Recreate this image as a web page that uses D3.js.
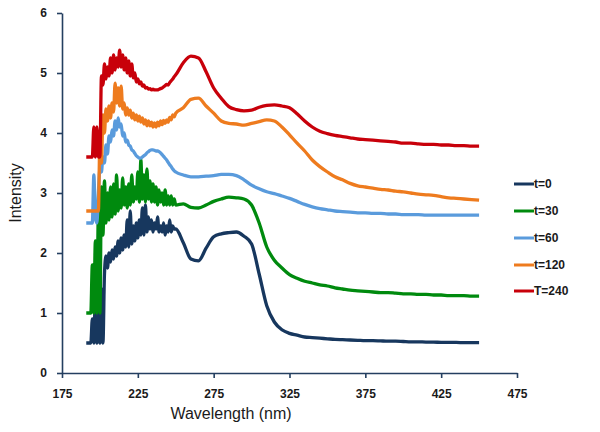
<!DOCTYPE html>
<html>
<head>
<meta charset="utf-8">
<script src="https://cdn.jsdelivr.net/npm/d3@7"></script>
<style>
  html, body { margin: 0; padding: 0; background: #fff; }
  svg { display: block; }
</style>
</head>
<body>
<svg id="chart" width="600" height="432"></svg>
<script>
const wavelength = [
  191,192,193,194,195,196,197,198,199,200,201,202,203,204,205,206,207,208,209,210,
  211,212,213,214,215,216,217,218,219,220,221,222,223,224,225,226,227,228,229,230,
  231,232,233,234,235,236,237,238,239,240,241,242,243,244,245,246,247,248,249,250,
  255,260,265,270,275,280,285,290,295,300,305,310,315,320,325,330,335,340,345,350,
  355,360,365,370,375,380,385,390,395,400,405,410,415,420,425,430,435,440,445,450
];

const t0 = [
  0.5,0.5,0.5,0.5,0.9,0.5,1.3,0.5,1.2,0.5,1.4,0.5,1.65,1.95,1.75,2.0,1.85,2.05,1.9,2.1,
  1.95,2.2,2.0,2.25,2.05,2.3,2.1,2.55,2.1,2.7,2.15,2.45,2.2,2.5,2.25,2.55,2.3,2.75,2.3,2.8,
  2.35,2.6,2.4,2.55,2.35,2.5,2.4,2.6,2.35,2.45,2.35,2.5,2.3,2.45,2.35,2.55,2.35,2.45,2.4,2.4,
  2.17,1.9,1.87,2.08,2.27,2.32,2.34,2.35,2.28,2.15,1.65,1.12,0.85,0.72,0.66,0.63,0.6,0.59,0.58,0.57,
  0.56,0.555,0.55,0.545,0.54,0.54,0.535,0.53,0.53,0.525,0.52,0.52,0.515,0.515,0.51,0.51,0.51,0.505,0.505,0.505
];

const t30 = [
  1.0,1.0,1.0,1.0,1.8,1.0,2.2,1.0,2.7,1.0,3.1,2.3,3.2,2.5,3.0,2.55,3.1,2.6,3.15,2.65,
  3.3,2.7,3.05,2.75,3.25,2.8,3.1,2.75,3.15,2.8,3.3,2.85,3.1,2.9,3.35,2.85,3.55,2.9,3.3,2.85,
  3.4,2.9,3.2,2.85,3.15,2.85,3.1,2.8,3.05,2.85,3.0,2.8,3.05,2.8,2.95,2.8,2.95,2.8,2.9,2.8,
  2.82,2.76,2.75,2.8,2.86,2.9,2.93,2.92,2.9,2.8,2.5,2.1,1.88,1.75,1.64,1.58,1.53,1.5,1.47,1.45,
  1.42,1.4,1.38,1.37,1.36,1.35,1.34,1.34,1.33,1.32,1.32,1.31,1.31,1.3,1.3,1.29,1.29,1.29,1.28,1.28
];

const t60 = [
  2.5,2.5,2.5,2.5,2.5,3.3,2.6,2.5,3.0,3.4,3.35,3.6,3.5,3.8,3.65,3.95,3.85,4.05,3.95,4.2,
  4.05,4.25,4.1,4.15,3.95,4.0,3.85,3.88,3.8,3.78,3.72,3.7,3.66,3.62,3.6,3.58,3.58,3.6,3.62,3.64,
  3.67,3.69,3.71,3.72,3.72,3.71,3.7,3.7,3.69,3.67,3.64,3.61,3.58,3.55,3.51,3.47,3.44,3.4,3.37,3.35,
  3.3,3.27,3.27,3.28,3.29,3.31,3.31,3.29,3.22,3.13,3.07,3.02,2.99,2.95,2.91,2.86,2.81,2.77,2.74,2.72,
  2.7,2.69,2.68,2.67,2.67,2.66,2.66,2.65,2.65,2.64,2.64,2.64,2.63,2.63,2.63,2.63,2.63,2.63,2.63,2.63
];

const t120 = [
  2.7,2.7,2.7,2.7,2.7,2.7,2.7,2.7,2.7,3.9,3.5,4.3,4.0,4.4,4.2,4.45,4.25,4.5,4.35,4.83,
  4.5,4.75,4.45,4.78,4.4,4.5,4.3,4.42,4.3,4.38,4.25,4.33,4.22,4.3,4.2,4.28,4.18,4.25,4.15,4.22,
  4.12,4.2,4.12,4.18,4.1,4.17,4.1,4.18,4.12,4.2,4.14,4.21,4.16,4.22,4.18,4.26,4.22,4.3,4.27,4.33,
  4.42,4.56,4.58,4.45,4.33,4.2,4.16,4.15,4.13,4.16,4.19,4.22,4.2,4.1,3.97,3.83,3.7,3.55,3.44,3.35,
  3.27,3.22,3.16,3.12,3.1,3.08,3.06,3.05,3.03,3.02,3.0,2.98,2.97,2.96,2.94,2.92,2.91,2.9,2.89,2.88
];

const t240 = [
  3.6,3.6,3.6,3.6,3.6,4.1,3.6,4.1,3.6,3.6,4.95,4.8,5.15,4.9,5.1,4.95,5.25,5.0,5.3,5.05,
  5.25,5.1,5.38,5.1,5.3,5.05,5.25,5.0,5.2,4.95,5.15,4.92,5.0,4.85,4.9,4.82,4.85,4.78,4.8,4.75,
  4.76,4.73,4.74,4.72,4.73,4.72,4.72,4.72,4.73,4.74,4.75,4.77,4.79,4.81,4.8,4.84,4.87,4.9,4.94,4.97,
  5.17,5.28,5.25,5.02,4.75,4.58,4.44,4.39,4.37,4.38,4.43,4.46,4.47,4.45,4.42,4.32,4.2,4.1,4.03,3.99,
  3.96,3.94,3.92,3.9,3.89,3.88,3.87,3.86,3.85,3.83,3.83,3.82,3.81,3.81,3.8,3.8,3.79,3.79,3.78,3.78
];

const seriesNames = ["t=0", "t=30", "t=60", "t=120", "T=240"];
const seriesValues = [t0, t30, t60, t120, t240];
const seriesColors = ["#17375E", "#008A0E", "#5A9BDC", "#EE7B1E", "#C8000A"];

const xTicks = [175, 225, 275, 325, 375, 425, 475];
const yTicks = [0, 1, 2, 3, 4, 5, 6];

const svg = d3.select("#chart");
const plotLeft = 62, plotRight = 517, plotTop = 13, plotBottom = 373;
const axisColor = "#243F60";

const x = d3.scaleLinear().domain([175, 475]).range([plotLeft, plotRight]);
const y = d3.scaleLinear().domain([0, 6]).range([plotBottom, plotTop]);

// Axes
const xAxis = svg.append("g")
  .attr("transform", `translate(0,${plotBottom})`)
  .call(d3.axisBottom(x).tickValues(xTicks).tickFormat(d3.format("d"))
    .tickSize(5).tickSizeOuter(0).tickPadding(11));
const yAxis = svg.append("g")
  .attr("transform", `translate(${plotLeft},0)`)
  .call(d3.axisLeft(y).tickValues(yTicks).tickFormat(d3.format("d"))
    .tickSize(5).tickSizeOuter(0).tickPadding(10));

[xAxis, yAxis].forEach(g => {
  g.select(".domain").attr("stroke", axisColor).attr("stroke-width", 1.6);
  g.selectAll(".tick line").attr("stroke", axisColor).attr("stroke-width", 1.6);
  g.selectAll(".tick text")
    .attr("fill", "#1a1a1a")
    .style("font-family", "'Liberation Sans', Arial, sans-serif")
    .style("font-weight", "bold")
    .style("font-size", "12px");
});

// Lines
const line = d3.line()
  .x((d, i) => x(wavelength[i]))
  .y(d => y(d))
  .curve(d3.curveMonotoneX);

const lines = svg.append("g");
seriesValues.forEach((vals, k) => {
  lines.append("path")
    .datum(vals)
    .attr("fill", "none")
    .attr("stroke", seriesColors[k])
    .attr("stroke-width", 3.3)
    .attr("stroke-linejoin", "round")
    .attr("stroke-linecap", "butt")
    .attr("d", line);
});

// Axis titles
svg.append("text")
  .attr("x", 231).attr("y", 419)
  .attr("text-anchor", "middle")
  .attr("fill", "#1a1a1a")
  .style("font-family", "'Liberation Sans', Arial, sans-serif")
  .style("font-size", "16px")
  .text("Wavelength (nm)");

svg.append("text")
  .attr("transform", "translate(21,193) rotate(-90)")
  .attr("text-anchor", "middle")
  .attr("fill", "#1a1a1a")
  .style("font-family", "'Liberation Sans', Arial, sans-serif")
  .style("font-size", "16px")
  .text("Intensity");

// Legend
const legendY = [184, 211, 238, 265, 291];
const legend = svg.append("g");
seriesNames.forEach((name, k) => {
  legend.append("line")
    .attr("x1", 514).attr("x2", 534)
    .attr("y1", legendY[k]).attr("y2", legendY[k])
    .attr("stroke", seriesColors[k])
    .attr("stroke-width", 3);
  legend.append("text")
    .attr("x", 534).attr("y", legendY[k])
    .attr("dy", "0.35em")
    .attr("fill", "#1a1a1a")
    .style("font-family", "'Liberation Sans', Arial, sans-serif")
    .style("font-weight", "bold")
    .style("font-size", "12px")
    .text(name);
});
</script>
</body>
</html>
